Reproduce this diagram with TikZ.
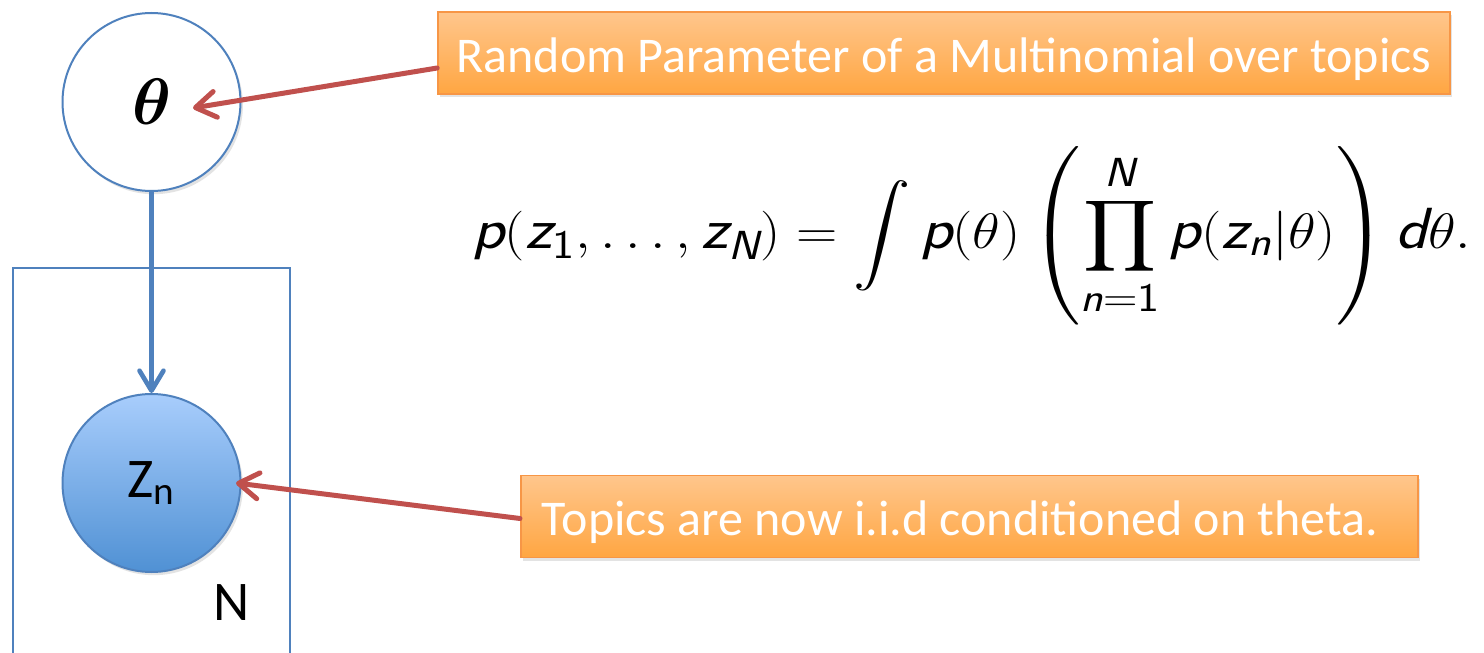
\documentclass[tikz,border=0pt]{standalone}
\usepackage{amsmath}
\usepackage{graphicx}
\usepackage{fontspec}
\newfontfamily\calib{Carlito}
\usetikzlibrary{arrows.meta,shadows,calc}

\definecolor{nodeblue}{RGB}{79,129,189}
\definecolor{arrowred}{RGB}{192,80,77}
\definecolor{calloutedge}{RGB}{247,150,70}
\definecolor{callouttop}{RGB}{255,198,140}
\definecolor{calloutbottom}{RGB}{255,166,66}
\definecolor{zntop}{RGB}{168,205,252}
\definecolor{znbottom}{RGB}{80,145,212}

% sans-serif italic / upright letters inside math
\newcommand{\sfv}[1]{\text{\normalfont\sffamily\itshape #1}}
\newcommand{\sfu}[1]{\text{\normalfont\sffamily #1}}

\begin{document}
\begin{tikzpicture}[x=0.5pt,y=-0.5pt,
  softshadow/.style={drop shadow={opacity=0.22,shadow xshift=1.2pt,shadow yshift=-1.6pt}},
  latent/.style={circle,draw=nodeblue,line width=1pt,minimum size=89pt,
    inner sep=0pt,fill=white,softshadow},
  observed/.style={latent,top color=zntop,bottom color=znbottom},
  callout/.style={draw=calloutedge,line width=0.8pt,top color=callouttop,
    bottom color=calloutbottom,text=white,inner ysep=0pt,minimum height=41pt,
    text height=24pt,text depth=5pt,
    font=\calib\fontsize{25}{30}\selectfont,softshadow},
  plate/.style={draw=nodeblue,line width=1pt,inner sep=0pt},
  pointer/.style={arrowred,line width=2.5pt,line cap=round,
    -{Straight Barb[length=10pt,width=13pt,round]}},
  edge/.style={nodeblue,line width=2.3pt,
    -{Straight Barb[length=10pt,width=12pt,round]}},
  lbl/.style={font=\calib\fontsize{28}{32}\selectfont,inner sep=0pt}]

\clip (0,0) rectangle (1484,653);
\fill[white] (0,0) rectangle (1484,653);

% plate over the N topic draws
\node[plate,minimum width=138.5pt,minimum height=205pt] (plate) at (151.5,473) {};
\node[lbl] (nlabel) at (232,603) {N};

% graphical model nodes
\node[latent] (theta) at (151.5,102)
  {\scalebox{1.32}{\fontsize{24.88}{30}\selectfont$\boldsymbol{\theta}$}};
\node[observed] (zn) at (151.5,483) {\calib\fontsize{28}{32}\selectfont Z\textsubscript{n}};
\draw[edge] (theta) -- (zn);

% annotations
\node[callout,minimum width=506pt] (co1) at (944,53)
  {Random Parameter of a Multinomial over topics};
\node[callout,minimum width=448.5pt,inner xsep=10.5pt,anchor=west]
  (co2) at (520,516.5)
  {\makebox[427.5pt][l]{Topics are now i.i.d conditioned on theta.}};

\coordinate (thetatip) at (193,108);
\coordinate (zntip) at (236,483);
\draw[pointer] ($(co1.west)+(0,15)$) -- (thetatip);
\draw[pointer] ($(co2.west)+(0,2)$) -- (zntip);

% marginal over the topics
\node[inner sep=0pt] (formula) at (972,236) {\scalebox{1.15}[1]{\fontsize{29}{35}\selectfont
  $\displaystyle \sfv{p}(\sfv{z}_{\sfu{1}},\ldots,\sfv{z}_{\sfv{N}})
  = \int \sfv{p}(\theta)\left(\prod_{\sfv{n}=\sfu{1}}^{\sfv{N}}
  \sfv{p}(\sfv{z}_{\sfv{n}}|\theta)\right)\sfv{d}\theta.$}};

\end{tikzpicture}
\end{document}
